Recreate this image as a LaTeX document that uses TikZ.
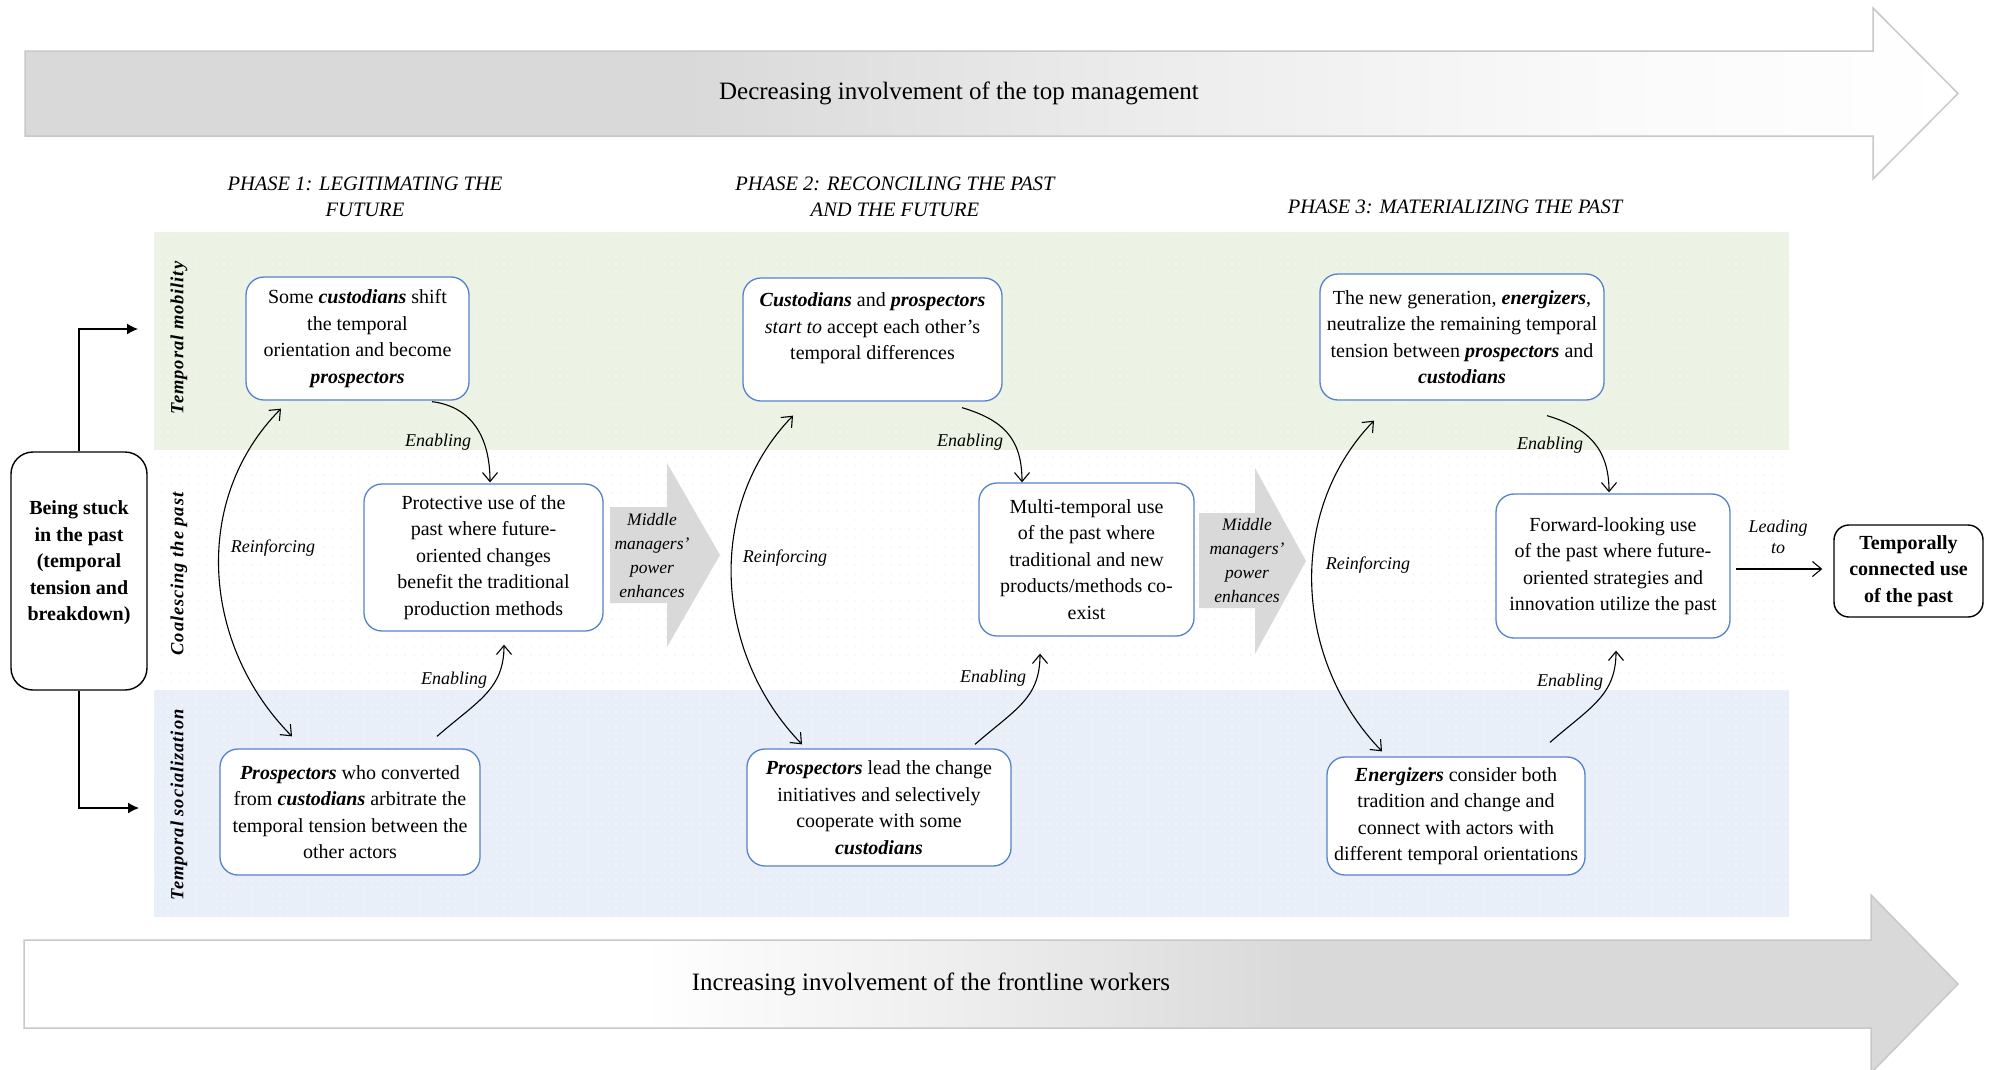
\documentclass[tikz,border=0pt]{standalone}
\usepackage{fontspec}
\setmainfont{Liberation Serif}
\usetikzlibrary{arrows.meta,calc,patterns.meta}

\definecolor{boxblue}{RGB}{84,130,205}
\definecolor{greenband}{RGB}{236,242,228}
\definecolor{blueband}{RGB}{233,239,249}
\definecolor{chevgray}{RGB}{217,217,217}
\definecolor{arrowgray}{RGB}{217,217,217}
\definecolor{midgray}{RGB}{236,236,236}
\definecolor{palegray}{RGB}{250,250,250}
\definecolor{edgegray}{RGB}{200,200,200}
\definecolor{dotgray}{RGB}{225,225,225}

\pgfdeclarehorizontalshading{topgrad}{100bp}{color(0bp)=(arrowgray); color(42bp)=(arrowgray); color(54bp)=(midgray); color(66bp)=(palegray); color(75bp)=(white); color(100bp)=(white)}
\pgfdeclarehorizontalshading{botgrad}{100bp}{color(0bp)=(white); color(41bp)=(white); color(50bp)=(midgray); color(58bp)=(arrowgray); color(100bp)=(arrowgray)}

\newcommand{\bitxt}[1]{\textbf{\textit{#1}}}

\begin{document}
\begin{tikzpicture}[x=1pt,y=-1pt,
  bx/.style={draw=boxblue, line width=1.3pt, rounded corners=18pt, fill=white, align=center, inner sep=0pt, font=\fontsize{20}{26.5}\selectfont},
  blk/.style={draw=black, line width=1.4pt, fill=white, align=center, inner sep=0pt, font=\bfseries\fontsize{20}{26.5}\selectfont},
  lbl/.style={font=\itshape\fontsize{18}{21}\selectfont, inner sep=1pt, align=center},
  phase/.style={font=\itshape\fontsize{20.5}{26}\selectfont, align=center, inner sep=0pt},
  lane/.style={rotate=90, font=\bfseries\itshape\fontsize{18.5}{20}\selectfont\addfontfeature{LetterSpace=5}, inner sep=0pt},
  ttl/.style={font=\fontsize{25}{28}\selectfont, inner sep=0pt},
  mm/.style={font=\itshape\fontsize{17.5}{24}\selectfont, align=center, inner sep=0pt},
  flow/.style={line width=1.1pt, -{Straight Barb[length=9pt,width=15pt,line width=1.1pt]}},
  twoway/.style={line width=1.1pt, {Straight Barb[length=9pt,width=15pt,line width=1.1pt]}-{Straight Barb[length=9pt,width=15pt,line width=1.1pt]}},
  conn/.style={line width=1.2pt, -{Latex[length=11pt,width=11pt]}}
]
\useasboundingbox (0,0) rectangle (1991,1069);
\clip (0,0) rectangle (1991,1069);

% bands
\fill[greenband] (154,232) rectangle (1789,450);
\fill[pattern={Dots[distance=7pt,radius=0.6pt]}, pattern color=white] (154,232) rectangle (1789,450);
\fill[pattern={Dots[distance=9pt,radius=0.6pt]}, pattern color=dotgray] (154,450) rectangle (1789,690);
\fill[blueband] (154,690) rectangle (1789,917);
\fill[pattern={Dots[distance=7pt,radius=0.6pt]}, pattern color=white] (154,690) rectangle (1789,917);

% big arrows
\shadedraw[shading=topgrad, draw=edgegray, line width=1.5pt]
  (25,51) -- (1873,51) -- (1873,8) -- (1958,93.5) -- (1873,179) -- (1873,136) -- (25,136) -- cycle;
\shadedraw[shading=botgrad, draw=edgegray, line width=1.5pt]
  (24,940) -- (1871,940) -- (1871,895) -- (1958,984) -- (1871,1073) -- (1871,1028) -- (24,1028) -- cycle;
\node[ttl] (toptxt) at (959,93) {Decreasing involvement of the top management};
\node[ttl] (bottxt) at (931,984) {Increasing involvement of the frontline workers};

% phase headings
\node[phase] (ph1) at (365,197) {PHASE 1: LEGITIMATING THE\\FUTURE};
\node[phase] (ph2) at (895,197) {PHASE 2: RECONCILING THE PAST\\AND THE FUTURE};
\node[phase] (ph3) at (1455,207) {PHASE 3: MATERIALIZING THE PAST};

% lane labels
\node[lane] (l1) at (179,338) {Temporal mobility};
\node[lane] (l2) at (179,574) {Coalescing the past};
\node[lane] (l3) at (179,805) {Temporal socialization};

% chevrons
\fill[chevgray] (610,507) -- (667,507) -- (667,463) -- (720,555) -- (667,647) -- (667,603) -- (610,603) -- cycle;
\node[mm] (mm1) at (652,556) {Middle\\managers’\\power\\enhances};
\fill[chevgray] (1199,513) -- (1255,513) -- (1255,468) -- (1306,561) -- (1255,654) -- (1255,608) -- (1199,608) -- cycle;
\node[mm] (mm2) at (1247,561) {Middle\\managers’\\power\\enhances};

% left box
\node[blk, rounded corners=22pt, minimum width=136pt, minimum height=238pt] (Stuck) at (79,571)
  {Being stuck\\in the past\\(temporal\\tension and\\breakdown)\\[-6pt]\mbox{}};
\coordinate (tmA) at (138,329);
\coordinate (tsA) at (139,808);
\draw[conn] (Stuck.north) |- (tmA);
\draw[conn] (Stuck.south) |- (tsA);

% phase 1 boxes
\node[bx, minimum width=223pt, minimum height=123pt] (A1) at (357.5,338.5)
  {Some \bitxt{custodians} shift\\the temporal\\orientation and become\\\bitxt{prospectors}};
\node[bx, minimum width=239pt, minimum height=147pt] (B1) at (483.5,557.5)
  {Protective use of the\\past where future-\\oriented changes\\benefit the traditional\\production methods};
\node[bx, minimum width=260pt, minimum height=126pt] (C1) at (350,812)
  {\bitxt{Prospectors} who converted\\from \bitxt{custodians} arbitrate the\\temporal tension between the\\other actors};

% phase 2 boxes
\node[bx, minimum width=259pt, minimum height=123pt] (A2) at (872.5,339.5)
  {\bitxt{Custodians} and \bitxt{prospectors}\\\textit{start to} accept each other’s\\temporal differences\\\mbox{}};
\node[bx, minimum width=215pt, minimum height=153pt] (B2) at (1086.5,559.5)
  {Multi-temporal use\\of the past where\\traditional and new\\products/methods co-\\exist};
\node[bx, minimum width=264pt, minimum height=117pt] (C2) at (879,807.5)
  {\bitxt{Prospectors} lead the change\\initiatives and selectively\\cooperate with some\\\bitxt{custodians}};

% phase 3 boxes
\node[bx, minimum width=284pt, minimum height=126pt] (A3) at (1462,337)
  {The new generation, \bitxt{energizers},\\neutralize the remaining temporal\\tension between \bitxt{prospectors} and\\\bitxt{custodians}};
\node[bx, minimum width=234pt, minimum height=144pt] (B3) at (1613,566)
  {Forward-looking use\\of the past where future-\\oriented strategies and\\innovation utilize the past};
\node[bx, minimum width=258pt, minimum height=118pt] (C3) at (1456,816)
  {\bitxt{Energizers} consider both\\tradition and change and\\connect with actors with\\different temporal orientations};

% end box
\node[blk, rounded corners=15pt, minimum width=149pt, minimum height=92pt] (End) at (1908.5,571)
  {Temporally\\connected use\\of the past};

% phase 1 connectors
\draw[flow] ($(A1.south)+(74.5,1)$) .. controls +(40,5) and +(0,-45) .. ($(B1.north)+(6.5,-1)$);
\draw[flow] ($(C1.north)+(87,-12)$) .. controls +(40,-35) and +(0,45) .. ($(B1.south)+(20.5,13)$);
\draw[twoway] ($(A1.south)+(-76.5,8)$) .. controls +(-90,91) and +(-90,-91) .. ($(C1.north)+(-58,-12)$);
\node[lbl] (en1a) at (438,442) {Enabling};
\node[lbl] (en1b) at (454,680) {Enabling};
\node[lbl] (re1) at (273,548) {Reinforcing};

% phase 2 connectors
\draw[flow] ($(A2.south)+(89.5,6)$) .. controls +(40,12) and +(0,-45) .. ($(B2.north)+(-64.5,0)$);
\draw[flow] ($(C2.north)+(96,-4)$) .. controls +(40,-35) and +(0,45) .. ($(B2.south)+(-46.5,17)$);
\draw[twoway] ($(A2.south)+(-79.5,14)$) .. controls +(-88,91) and +(-88,-91) .. ($(C2.north)+(-77,-4)$);
\node[lbl] (en2a) at (970,442) {Enabling};
\node[lbl] (en2b) at (993,678) {Enabling};
\node[lbl] (re2) at (785,558) {Reinforcing};

% phase 3 connectors
\draw[flow] ($(A3.south)+(85,15)$) .. controls +(40,12) and +(0,-45) .. ($(B3.north)+(-4,-1)$);
\draw[flow] ($(C3.north)+(94,-14)$) .. controls +(40,-35) and +(0,45) .. ($(B3.south)+(3,12)$);
\draw[twoway] ($(A3.south)+(-88,20)$) .. controls +(-88,91) and +(-88,-91) .. ($(C3.north)+(-74,-5)$);
\node[lbl] (en3a) at (1550,445) {Enabling};
\node[lbl] (en3b) at (1570,682) {Enabling};
\node[lbl] (re3) at (1368,565) {Reinforcing};

% leading to
\draw[flow] ($(B3.east)+(5,3)$) -- ($(End.west)+(-11,-2)$);
\node[lbl] (lead) at (1778,537) {Leading\\to};
\end{tikzpicture}
\end{document}
